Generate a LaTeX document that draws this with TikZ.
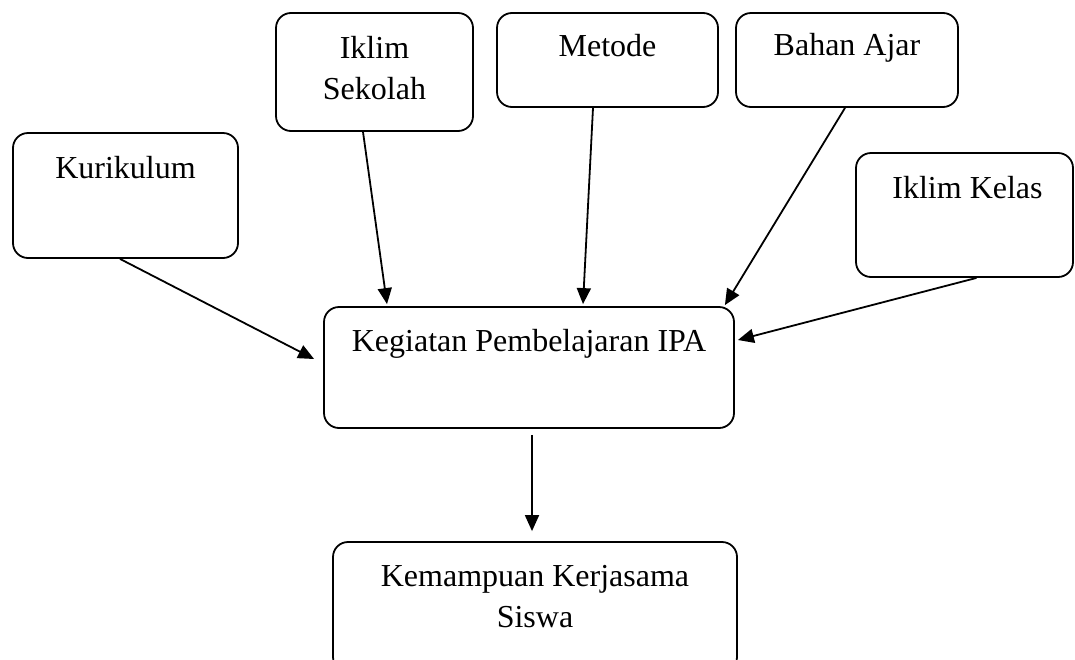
\documentclass[tikz,border=0pt]{standalone}
\usepackage{fontspec}
\setmainfont{Liberation Serif}
\usetikzlibrary{arrows.meta}

\tikzset{
  kotak/.style={draw, line width=0.9pt, rounded corners=7.5pt, inner sep=0pt},
  teks/.style={anchor=base, align=center, inner sep=0pt,
    font=\fontsize{16}{20.5}\selectfont},
  panah/.style={line width=0.9pt, -{Triangle[length=8pt,width=7pt]}}
}

\begin{document}
\begin{tikzpicture}[x=0.5pt, y=-0.5pt]
  % Fix the page size
  \useasboundingbox (0,0) rectangle (1075,659);

  % Draw the boxes
  \node[kotak, minimum width=112.5pt, minimum height=62.5pt] (kur) at (125.5,195.5) {};
  \node[kotak, minimum width=98.5pt, minimum height=59pt] (iks) at (374.5,72) {};
  \node[kotak, minimum width=110.5pt, minimum height=47pt] (met) at (607.5,60) {};
  \node[kotak, minimum width=111pt, minimum height=47pt] (baj) at (847,60) {};
  \node[kotak, minimum width=108.5pt, minimum height=62pt] (ikk) at (964.5,215) {};
  \node[kotak, minimum width=205pt, minimum height=60.5pt] (keg) at (529,367.5) {};
  \node[kotak, minimum width=202pt, minimum height=65pt] (kem) at (535,607) {};

  % Write the texts near the top of each box (base = last line)
  \node[teks] (kurT) at ([yshift=-23pt]kur.north) {Kurikulum};
  \node[teks] (iksT) at ([yshift=-43.5pt]iks.north) {Iklim\\Sekolah};
  \node[teks] (metT) at ([yshift=-22pt]met.north) {Metode};
  \node[teks] (bajT) at ([yshift=-21.5pt]baj.north) {Bahan Ajar};
  \node[teks] (ikkT) at ([xshift=1.5pt, yshift=-23pt]ikk.north) {Iklim Kelas};
  \node[teks] (kegT) at ([yshift=-22.5pt]keg.north) {Kegiatan Pembelajaran IPA};
  \node[teks] (kemT) at ([yshift=-43pt]kem.north) {Kemampuan Kerjasama\\Siswa};

  % Draw the arrows
  \draw[panah] ([xshift=-2.75pt]kur.south) -- ([xshift=-4.5pt, yshift=4.25pt]keg.west);
  \draw[panah] ([xshift=-5.75pt]iks.south) -- ([xshift=-71pt, yshift=1pt]keg.north);
  \draw[panah] ([xshift=-7.25pt]met.south) -- ([xshift=27pt, yshift=1pt]keg.north);
  \draw[panah] ([xshift=-1pt]baj.south) -- ([xshift=-5pt, yshift=0.5pt]keg.north east);
  \draw[panah] ([xshift=6pt]ikk.south) -- ([xshift=1.5pt, yshift=13.75pt]keg.east);
  \draw[panah] ([xshift=1.5pt, yshift=-3pt]keg.south) -- ([xshift=-1.5pt, yshift=5pt]kem.north);
\end{tikzpicture}
\end{document}
